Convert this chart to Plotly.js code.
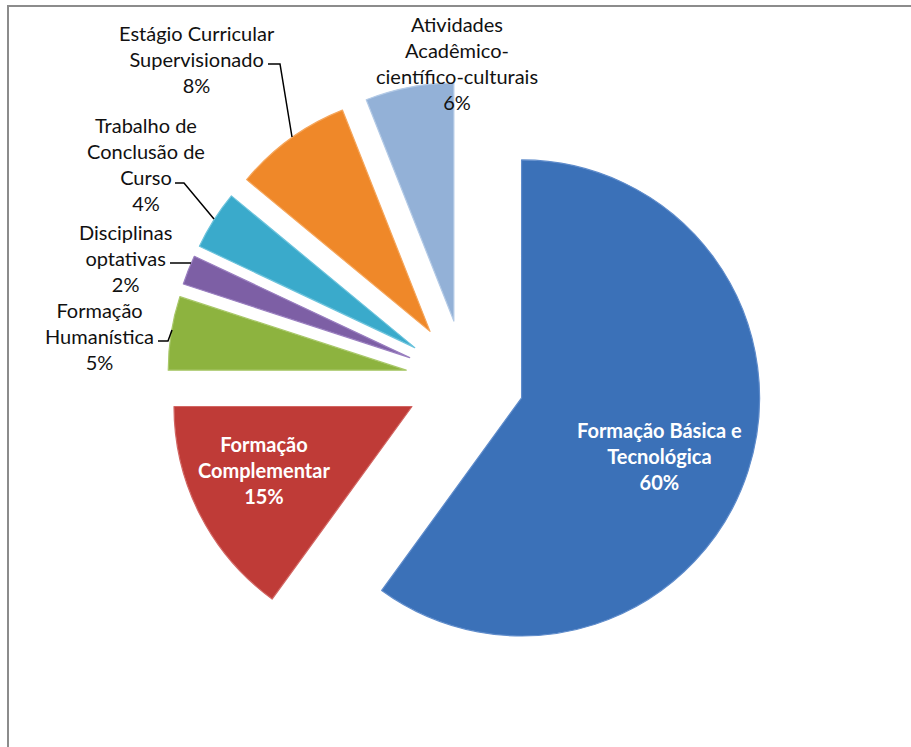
<!DOCTYPE html>
<html>
<head>
<meta charset="utf-8">
<script src="https://cdn.plot.ly/plotly-3.0.1.min.js"></script>
<style>html,body{margin:0;padding:0;background:#fff;}#chart{width:911px;height:747px;}</style>
</head>
<body>
<div id="chart"></div>
<script>
// ---- data ----
const categories = [
  "Formação Básica e Tecnológica",
  "Formação Complementar",
  "Formação Humanística",
  "Disciplinas optativas",
  "Trabalho de Conclusão de Curso",
  "Estágio Curricular Supervisionado",
  "Atividades Acadêmico-científico-culturais"
];
const values = [60, 15, 5, 2, 4, 8, 6];
const labelLines = [
  ["Formação Básica e", "Tecnológica"],
  ["Formação", "Complementar"],
  ["Formação", "Humanística"],
  ["Disciplinas", "optativas"],
  ["Trabalho de", "Conclusão de", "Curso"],
  ["Estágio Curricular", "Supervisionado"],
  ["Atividades", "Acadêmico-", "científico-culturais"]
];
const colors = ["#3b71b8", "#bf3b37", "#8db33f", "#7d5fa5", "#3aaacb", "#ef8829", "#93b1d7"];
const edgeColors = ["#5f8ccb", "#d26663", "#a9c86a", "#9a7fc0", "#6cc3dc", "#f5a65c", "#b3cae6"];

// ---- layout helpers (pixel -> paper) ----
const W = 911, H = 747;
const px = x => x / W;
const py = y => 1 - y / H;

// label placement (centre of text block, in pixels) and text style
const labelPos = [
  {x: 659, y: 456, inside: true},
  {x: 264, y: 470, inside: true},
  {x: 99,  y: 336},
  {x: 125, y: 258},
  {x: 146, y: 164},
  {x: 197, y: 59},
  {x: 457, y: 63}
];
const leaders = [
  null, null,
  [[158, 341], [168, 341], [172, 330]],
  [[170, 263], [191, 263]],
  [[175, 183], [184, 183], [214, 219]],
  [[268, 64], [280, 64], [292, 137]],
  null
];

const FONT = "Lato, 'Open Sans', sans-serif";

const annotations = categories.map((c, i) => {
  const p = labelPos[i];
  const txt = labelLines[i].join("<br>") + "<br>" + values[i] + "%";
  return {
    xref: "paper", yref: "paper",
    x: px(p.x), y: py(p.y),
    xanchor: "center", yanchor: "middle",
    text: p.inside ? "<b>" + txt + "</b>" : txt,
    showarrow: false, align: "center",
    font: {family: FONT, size: 20, color: p.inside ? "#ffffff" : "#111111"}
  };
});

const shapes = [{
  type: "rect", xref: "paper", yref: "paper",
  x0: px(8), x1: 1.02, y0: -0.02, y1: py(6),
  line: {color: "#8c8c8c", width: 2}, fillcolor: "rgba(0,0,0,0)"
}];
leaders.forEach(l => {
  if (!l) return;
  const d = l.map((pt, k) => (k ? "L" : "M") + px(pt[0]) + "," + py(pt[1])).join(" ");
  shapes.push({type: "path", xref: "paper", yref: "paper", path: d,
    line: {color: "#000000", width: 1.5}});
});

const trace = {
  type: "pie",
  labels: categories,
  values: values,
  sort: false,
  direction: "clockwise",
  rotation: 0,
  pull: 0.25,
  textinfo: "none",
  hoverinfo: "label+percent",
  marker: {colors: colors, line: {color: edgeColors, width: 1.2}},
  domain: {x: [px(167.5), px(762.5)], y: [py(677), py(82)]},
  showlegend: false
};

const layout = {
  width: W, height: H,
  margin: {l: 0, r: 0, t: 0, b: 0},
  paper_bgcolor: "#ffffff",
  showlegend: false,
  annotations: annotations,
  shapes: shapes,
  font: {family: FONT}
};

Plotly.newPlot("chart", [trace], layout, {displayModeBar: false, staticPlot: true});
</script>
</body>
</html>
